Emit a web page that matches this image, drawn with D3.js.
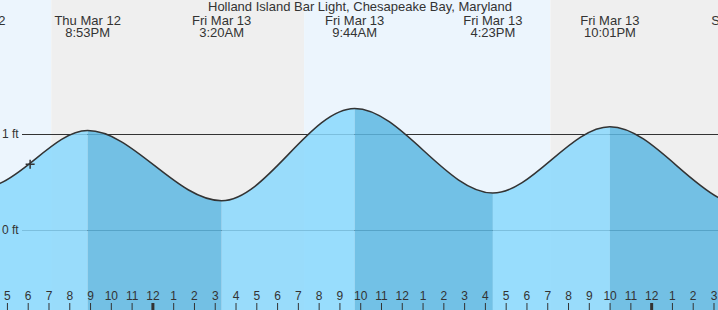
<!DOCTYPE html>
<html lang="en">
<head>
    <meta charset="UTF-8">
    <title>Tide chart with D3.js</title>
    <script src="https://d3js.org/d3.v7.min.js"></script>
    <style>
        body { margin: 0; overflow: hidden; background: #fff; }
        svg { display: block; font-family: 'Liberation Sans', Arial, sans-serif; }
        .axis text { font-size: 12px; fill: #333; }
        .axis line { stroke: #333; }
    </style>
</head>
<body>
    <svg id="chart"></svg>

    <script>
        // Tide data
        const station = 'Holland Island Bar Light, Chesapeake Bay, Maryland';
        const extremeTimes = ['2026-03-12T15:20', '2026-03-12T20:53', '2026-03-13T03:20', '2026-03-13T09:44',
                              '2026-03-13T16:23', '2026-03-13T22:01', '2026-03-14T04:25'];
        const extremeHeights = [0.37, 1.03, 0.30, 1.26, 0.38, 1.07, 0.20];
        // readings where the curve leaves the frame
        const edgeTimes = ['2026-03-12T16:40', '2026-03-14T03:13'];
        const edgeHeights = [0.48, 0.335];
        // sunset / sunrise
        const sunTimes = ['2026-03-12T19:08', '2026-03-13T07:18', '2026-03-13T19:09'];
        const nowTime = '2026-03-12T18:07';
        const nowHeight = 0.68;
        const gridFeet = [0, 1];

        const width = 718;
        const height = 310;
        const parse = d3.utcParse('%Y-%m-%dT%H:%M');

        const x = d3.scaleUtc()
            .domain([parse(edgeTimes[0]), parse(edgeTimes[1])])
            .range([0, width]);
        const y = d3.scaleLinear()
            .domain([0, 1])
            .range([229.5, 133.5]);

        const extremes = extremeTimes.map((t, i) => ({ t: parse(t), h: extremeHeights[i] }));
        const points = extremes.concat(edgeTimes.map((t, i) => ({ t: parse(t), h: edgeHeights[i] })))
            .sort((a, b) => a.t - b.t);

        const svg = d3.select('#chart')
            .attr('width', width)
            .attr('height', height);

        // day / night background
        const bounds = [x.domain()[0]].concat(sunTimes.map(parse), [x.domain()[1]]);
        svg.selectAll('rect.sky')
            .data(d3.pairs(bounds))
            .enter()
            .append('rect')
            .attr('class', 'sky')
            .attr('x', d => x(d[0]))
            .attr('y', 0)
            .attr('width', d => x(d[1]) - x(d[0]))
            .attr('height', height)
            .attr('fill', (d, i) => i % 2 === 0 ? '#ecf5fd' : '#efefef');

        // feet lines (under the water so they show faintly through it)
        svg.selectAll('line.grid')
            .data(gridFeet)
            .enter()
            .append('line')
            .attr('class', 'grid')
            .attr('x1', 22)
            .attr('x2', width)
            .attr('y1', d => Math.round(y(d)) + 0.5)
            .attr('y2', d => Math.round(y(d)) + 0.5)
            .attr('stroke', '#333');

        // water area, light while rising and dark while falling
        const area = d3.area()
            .x(d => x(d.t))
            .y0(height)
            .y1(d => y(d.h))
            .curve(d3.curveMonotoneX);

        svg.append('clipPath')
            .attr('id', 'water')
            .append('path')
            .attr('d', area(points));

        svg.append('g')
            .attr('clip-path', 'url(#water)')
            .selectAll('rect')
            .data(d3.pairs(extremes))
            .enter()
            .append('rect')
            .attr('x', d => x(d[0].t))
            .attr('y', 0)
            .attr('width', d => x(d[1].t) - x(d[0].t))
            .attr('height', height)
            .attr('fill', d => d[1].h > d[0].h ? '#89d8fd' : '#5db7e2')
            .attr('fill-opacity', 0.85);

        const line = d3.line()
            .x(d => x(d.t))
            .y(d => y(d.h))
            .curve(d3.curveMonotoneX);

        svg.append('path')
            .attr('d', line(points))
            .attr('fill', 'none')
            .attr('stroke', '#333')
            .attr('stroke-width', 1.5);

        svg.selectAll('text.ft')
            .data(gridFeet)
            .enter()
            .append('text')
            .attr('class', 'ft')
            .attr('x', 2)
            .attr('y', d => y(d) + 4)
            .attr('font-size', 12)
            .attr('fill', '#333')
            .text(d => d + ' ft');

        // current time marker
        svg.append('path')
            .attr('transform', `translate(${x(parse(nowTime))}, ${y(nowHeight)})`)
            .attr('d', 'M-4.5,0H4.5M0,-4.5V4.5')
            .attr('stroke', '#333')
            .attr('stroke-width', 1.5);

        // title and high / low labels
        svg.append('text')
            .attr('x', 360)
            .attr('y', 11)
            .attr('text-anchor', 'middle')
            .attr('font-size', 13)
            .attr('fill', '#333')
            .text(station);

        const dayFmt = d3.utcFormat('%a %b %-d');
        const timeFmt = d3.utcFormat('%-I:%M%p');
        const labels = svg.selectAll('g.label')
            .data(extremes)
            .enter()
            .append('g')
            .attr('class', 'label')
            .attr('transform', d => `translate(${x(d.t)}, 0)`)
            .attr('text-anchor', 'middle')
            .attr('font-size', 13)
            .attr('fill', '#333');
        labels.append('text').attr('y', 24.5).text(d => dayFmt(d.t));
        labels.append('text').attr('y', 36.5).text(d => timeFmt(d.t));

        // hour axis
        const axis = svg.append('g')
            .attr('class', 'axis')
            .attr('transform', `translate(0, ${height})`)
            .call(d3.axisTop(x)
                .ticks(d3.utcHour.every(1))
                .tickSize(7)
                .tickPadding(3)
                .tickFormat(d => (d.getUTCHours() % 12) || 12));
        axis.select('.domain').remove();
        axis.selectAll('.tick line')
            .attr('stroke-width', d => d.getUTCHours() === 0 ? 3 : 1);
    </script>
</body>
</html>
